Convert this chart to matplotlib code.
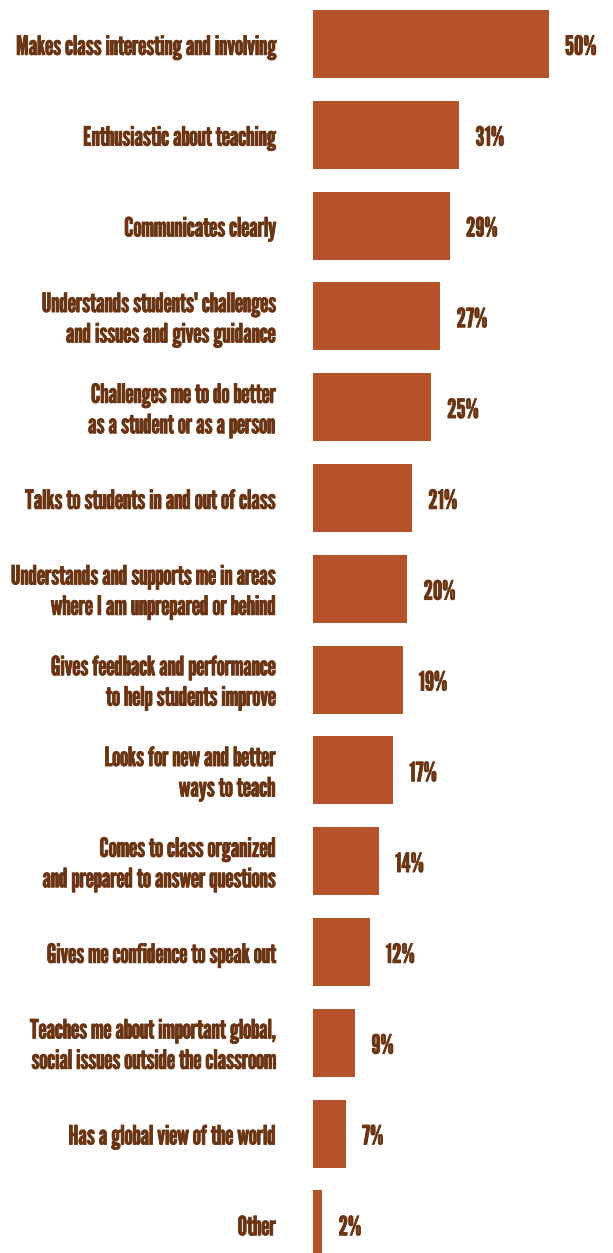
import matplotlib
matplotlib.use('Agg')
from matplotlib import pyplot as plt
from matplotlib import patheffects as pe

labels = [
    "Makes class interesting and involving",
    "Enthusiastic about teaching",
    "Communicates clearly",
    "Understands students' challenges\nand issues and gives guidance",
    "Challenges me to do better\nas a student or as a person",
    "Talks to students in and out of class",
    "Understands and supports me in areas\nwhere I am unprepared or behind",
    "Gives feedback and performance\nto help students improve",
    "Looks for new and better\nways to teach",
    "Comes to class organized\nand prepared to answer questions",
    "Gives me confidence to speak out",
    "Teaches me about important global,\nsocial issues outside the classroom",
    "Has a global view of the world",
    "Other",
]
values = [50, 31, 29, 27, 25, 21, 20, 19, 17, 14, 12, 9, 7, 2]

bar_color = '#b5522a'
text_color = '#6b3412'
font = ['League Gothic', 'DejaVu Sans']
bold = [pe.withStroke(linewidth=0.6, foreground=text_color)]

fig = plt.figure(figsize=(6.13, 12.53), dpi=100)
ax = fig.add_axes([313 / 613, 0, 300 / 613, 1])

pos = list(range(len(values)))
ax.barh(pos, values, height=0.749, color=bar_color)
ax.set_xlim(0, 300 / 4.72)
ax.set_ylim(13.315, -0.4846)
ax.axis('off')

for i, (lab, v) in enumerate(zip(labels, values)):
    ax.annotate(lab, (0, i), xytext=(-27, -2.4), textcoords='offset points',
                ha='right', va='center', fontsize=19, family=font,
                color=text_color, linespacing=1.27, path_effects=bold)
    ax.annotate(f"{v}%", (v, i), xytext=(11.5, -2.4), textcoords='offset points',
                ha='left', va='center', fontsize=19, family=font,
                color=text_color, path_effects=bold)

fig.savefig('out.png', dpi=100)
